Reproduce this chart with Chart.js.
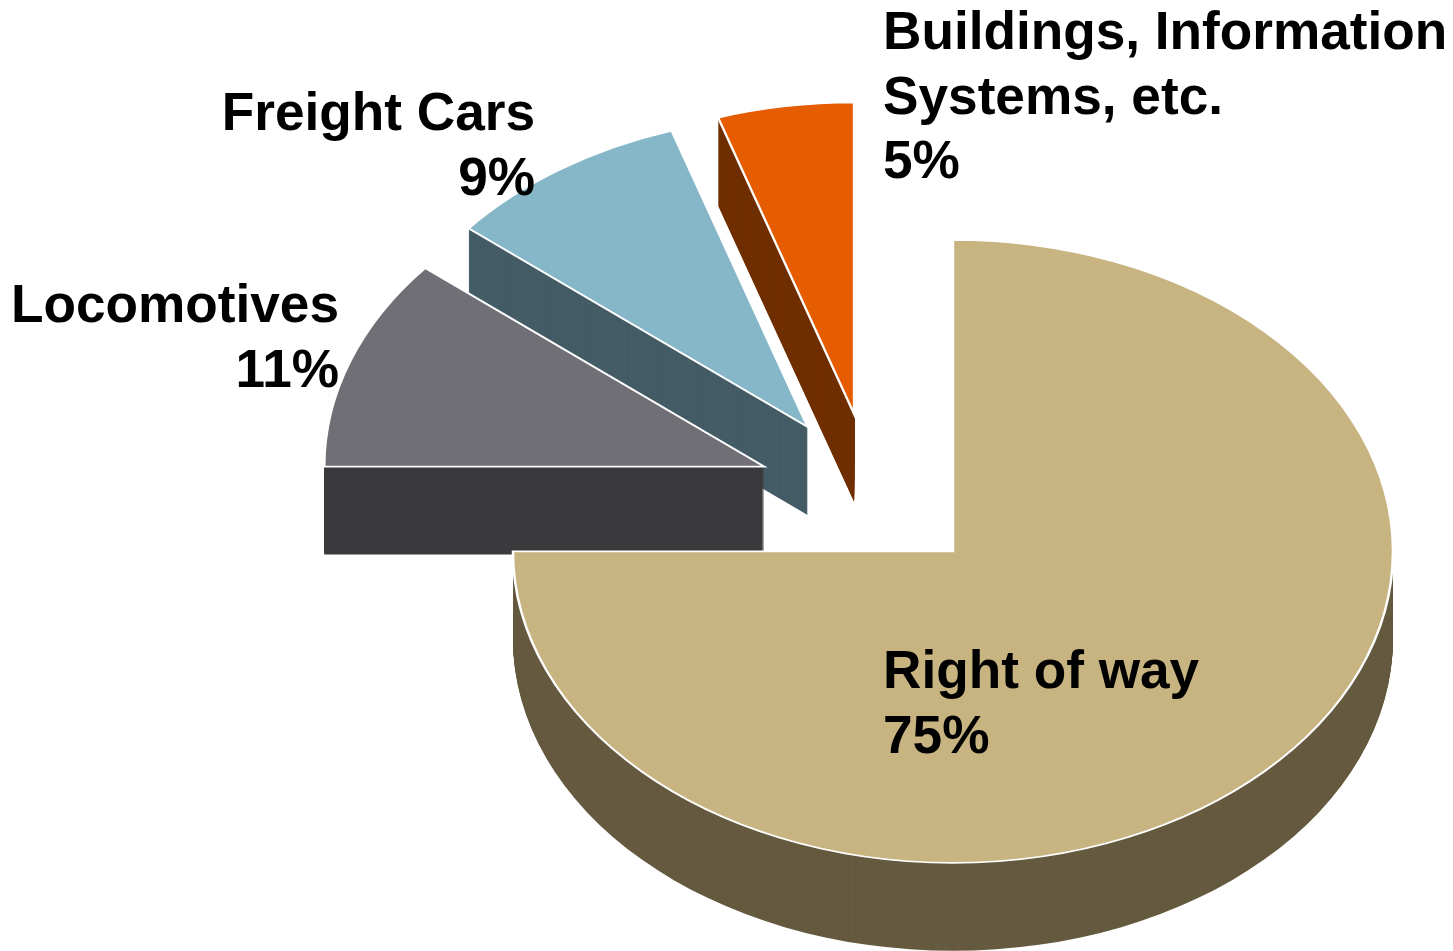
<!DOCTYPE html>
<html>
<head>
<meta charset="utf-8">
<style>html,body{margin:0;padding:0;background:#fff}canvas{display:block}</style>
<script src="https://cdn.jsdelivr.net/npm/chart.js@4"></script>
</head>
<body>
<canvas id="c" width="1453" height="951"></canvas>
<script>
const categories = ['Right of way', 'Locomotives', 'Freight Cars', 'Buildings, Information Systems, etc.'];
const shares = [75, 11, 9, 5];
const topColors = ['#c8b480', '#716f76', '#85b7c8', '#e65c00'];
const wallColors = ['#655a3f', '#3a3a3c', '#445c66', '#702f00'];
const labelLines = [['Right of way', '75%'], ['Locomotives', '11%'], ['Freight Cars', '9%'], ['Buildings, Information', 'Systems, etc.', '5%']];
const labelAnchors = [[883, 688, 'left'], [339, 322, 'right'], [535, 130, 'right'], [883, 49, 'left']];

const tilt = 0.708, depth = 88, explode = 114.5, centre = [872, 494];
const fontPx = 53.2, lineStep = 64.7;

const pie3d = {
  id: 'pie3d',
  beforeDatasetsDraw(chart) {
    const ctx = chart.ctx;
    const arcs = chart.getDatasetMeta(0).data;
    for (let i = arcs.length - 1; i >= 0; i--) {
      const arc = arcs[i];
      const mid = (arc.startAngle + arc.endAngle) / 2;
      const base = arc.options;
      const place = (dy) => {
        ctx.save();
        ctx.translate(centre[0], centre[1] + dy);
        ctx.scale(1, tilt);
        ctx.translate(Math.cos(mid) * explode - arc.x, Math.sin(mid) * explode - arc.y);
      };
      const wall = Object.create(base);
      wall.backgroundColor = wallColors[i];
      wall.borderWidth = 0;
      arc.options = wall;
      for (let d = depth; d >= 1; d--) {
        place(d);
        arc.draw(ctx);
        ctx.restore();
      }
      arc.options = base;
      place(0);
      arc.draw(ctx);
      ctx.restore();
    }
    return false;
  },
  afterDraw(chart) {
    const ctx = chart.ctx;
    ctx.save();
    ctx.fillStyle = '#000';
    ctx.font = 'bold ' + fontPx + 'px "Liberation Sans", Arial, sans-serif';
    ctx.textBaseline = 'alphabetic';
    labelLines.forEach((lines, i) => {
      const [x, y, align] = labelAnchors[i];
      ctx.textAlign = align;
      lines.forEach((t, j) => ctx.fillText(t, x, y + j * lineStep));
    });
    ctx.restore();
  }
};

new Chart(document.getElementById('c'), {
  type: 'pie',
  data: {
    labels: categories,
    datasets: [{
      data: shares,
      backgroundColor: topColors,
      borderColor: '#ffffff',
      borderWidth: 2.5,
      borderJoinStyle: 'miter',
      radius: 440
    }]
  },
  options: {
    responsive: false,
    animation: false,
    events: [],
    rotation: 0,
    plugins: { legend: { display: false }, tooltip: { enabled: false }, title: { display: false } }
  },
  plugins: [pie3d]
});
</script>
</body>
</html>
